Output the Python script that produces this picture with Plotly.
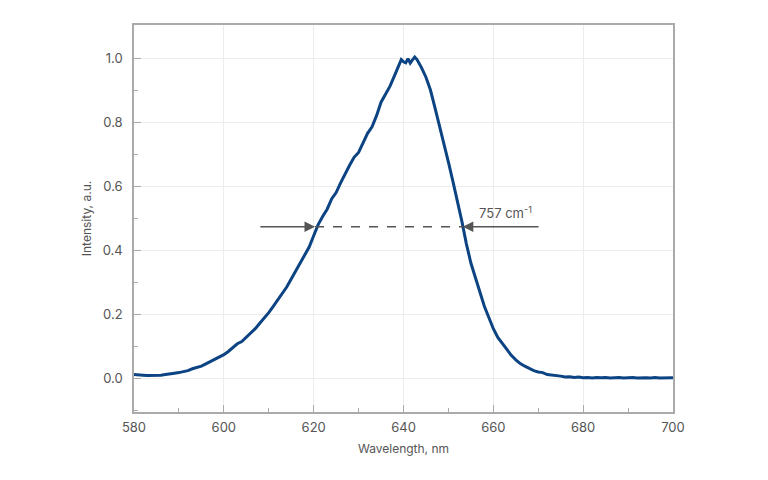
import plotly.graph_objects as go

# spectrum
wavelength = [580, 581, 582, 583, 584, 585, 586, 587, 588, 589,
              590, 591, 592, 593, 594, 595, 596, 597, 598, 599,
              600, 601, 602, 603, 604, 605, 606, 607, 608, 609,
              610, 611, 612, 613, 614, 615, 616, 617, 618, 619,
              620, 621, 622, 623, 624, 625, 626, 627, 628, 629,
              630, 631, 632, 633, 634, 635, 636, 637, 638, 639,
              639.5, 640, 640.5, 641, 641.5, 642, 642.5, 643, 644, 645,
              646, 647, 648, 649, 650, 651, 652, 653, 654, 655,
              656, 657, 658, 659, 660, 661, 662, 663, 664, 665,
              666, 667, 668, 669, 670, 671, 672, 673, 674, 675,
              676, 677, 678, 679, 680, 681, 682, 683, 684, 685,
              686, 687, 688, 689, 690, 691, 692, 693, 694, 695,
              696, 697, 698, 699, 700]
intensity = [0.012, 0.012, 0.010, 0.009, 0.009, 0.008, 0.010, 0.012, 0.013, 0.016,
             0.018, 0.020, 0.024, 0.030, 0.033, 0.038, 0.045, 0.052, 0.058, 0.066,
             0.074, 0.084, 0.096, 0.108, 0.115, 0.128, 0.142, 0.155, 0.172, 0.188,
             0.205, 0.225, 0.245, 0.265, 0.285, 0.310, 0.335, 0.360, 0.385, 0.410,
             0.445, 0.480, 0.505, 0.528, 0.560, 0.580, 0.610, 0.640, 0.665, 0.690,
             0.705, 0.735, 0.765, 0.785, 0.820, 0.862, 0.885, 0.912, 0.945, 0.975,
             0.995, 0.988, 0.985, 0.998, 0.984, 0.994, 1.003, 0.995, 0.970, 0.940,
             0.900, 0.845, 0.790, 0.730, 0.675, 0.615, 0.555, 0.490, 0.420, 0.360,
             0.315, 0.270, 0.225, 0.190, 0.155, 0.128, 0.108, 0.090, 0.072, 0.058,
             0.046, 0.038, 0.030, 0.024, 0.020, 0.018, 0.012, 0.011, 0.008, 0.007,
             0.004, 0.005, 0.003, 0.004, 0.002, 0.003, 0.001, 0.003, 0.002, 0.003,
             0.001, 0.002, 0.003, 0.001, 0.002, 0.003, 0.001, 0.002, 0.002, 0.001,
             0.003, 0.001, 0.002, 0.001, 0.002]

# FWHM marker
fwhm_level = 0.473
fwhm_left = 620.3
fwhm_right = 653.2
arrow_left_start = 607.8
arrow_right_start = 670.4
fwhm_label = "757 cm<sup>-1</sup>"

grey = "#555555"

fig = go.Figure()
fig.add_trace(go.Scatter(x=wavelength, y=intensity, mode="lines",
                         line=dict(color="#0c4383", width=3), showlegend=False))

# dashed line between the two arrows
fig.add_shape(type="line", x0=fwhm_left, x1=fwhm_right, y0=fwhm_level, y1=fwhm_level,
              xref="x", yref="y", line=dict(color=grey, width=1.5, dash="dash"))

for start, end in [(arrow_left_start, fwhm_left), (arrow_right_start, fwhm_right)]:
    fig.add_annotation(x=end, y=fwhm_level, ax=start, ay=fwhm_level,
                       xref="x", yref="y", axref="x", ayref="y",
                       text="", showarrow=True, arrowhead=2, arrowsize=1.4,
                       arrowwidth=1.5, arrowcolor=grey)

fig.add_annotation(x=662.6, y=0.517, xref="x", yref="y", text=fwhm_label,
                   showarrow=False, font=dict(size=13, color=grey, family="Inter"))

axis_common = dict(showline=True, linecolor="#aaaaaa", linewidth=1.5, mirror=True,
                   showgrid=True, gridcolor="#ececec", gridwidth=1,
                   ticks="inside", ticklen=7, tickcolor="#aaaaaa", zeroline=False,
                   tickfont=dict(size=13, color=grey, family="Inter"),
                   title_font=dict(size=12, color=grey, family="Inter"))

fig.update_xaxes(range=[580, 700], dtick=20, ticklabelstandoff=3,
                 title=dict(text="Wavelength, nm", standoff=10),
                 minor=dict(dtick=10, ticks="inside", ticklen=4, tickcolor="#aaaaaa",
                            showgrid=False),
                 **axis_common)
fig.update_yaxes(range=[-0.105, 1.103], dtick=0.2, tick0=0, tickformat=".1f",
                 ticklabelstandoff=7,
                 title=dict(text="Intensity, a.u.", standoff=8),
                 minor=dict(dtick=0.1, ticks="inside", ticklen=4, tickcolor="#aaaaaa",
                            showgrid=False),
                 **axis_common)

fig.update_layout(width=768, height=480, plot_bgcolor="white", paper_bgcolor="white",
                  margin=dict(l=126, r=103, t=17, b=76))

fig.write_html("out.html")
